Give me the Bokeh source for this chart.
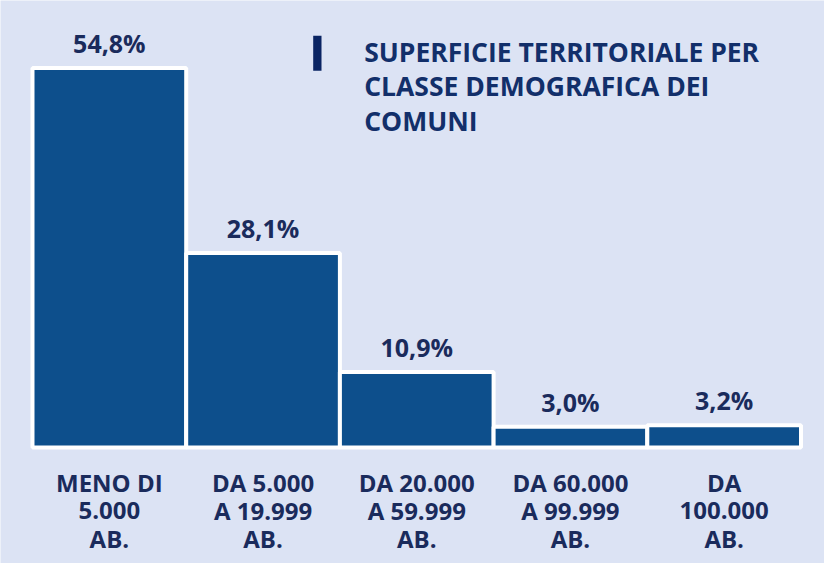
from bokeh.plotting import figure
from bokeh.models import ColumnDataSource, Range1d
from bokeh.core.properties import value
from bokeh.embed import file_html
from bokeh.resources import INLINE

# ---- data ----
categories = ["MENO DI\n5.000\nAB.", "DA 5.000\nA 19.999\nAB.", "DA 20.000\nA 59.999\nAB.",
              "DA 60.000\nA 99.999\nAB.", "DA\n100.000\nAB."]
shares = [54.8, 28.1, 10.9, 3.0, 3.2]
share_labels = ["54,8%", "28,1%", "10,9%", "3,0%", "3,2%"]
title_lines = ["SUPERFICIE TERRITORIALE PER", "CLASSE DEMOGRAFICA DEI", "COMUNI"]

W, H = 824, 563
PX_X = 153.7      # pixels per category
PX_Y = 6.925      # pixels per percentage point
X0 = 108.85       # frame px of x=0
Y0 = 447.0        # frame px (from top) of y=0

def dx(fx):
    return (fx - X0) / PX_X

def dy(fy):
    return (Y0 - fy) / PX_Y

FONT = value("Open Sans")
BG = "#dce3f4"
BAR = "#0d4f8c"
TXT = "#1a2b5c"
TITLE = "#122f6a"

p = figure(width=W, height=H, output_backend="svg", toolbar_location=None,
           min_border=0, x_axis_location=None, y_axis_location=None,
           background_fill_color=BG, border_fill_color=BG, outline_line_color=None)
p.x_range = Range1d(dx(0), dx(W))
p.y_range = Range1d(dy(H), dy(0))
p.xgrid.visible = False
p.ygrid.visible = False

xs = list(range(len(shares)))
src = ColumnDataSource(dict(x=xs, top=shares, lab=share_labels))
p.vbar(x="x", top="top", bottom=0, width=1, source=src,
       fill_color=BAR, line_color="white", line_width=4)

p.text(x="x", y="top", text="lab", source=src, y_offset=-25,
       text_align="center", text_baseline="alphabetic",
       text_font=FONT, text_font_style="bold", text_font_size="25px", text_color=TXT)

# category labels, line by line
split = [c.split("\n") for c in categories]
for li, off in enumerate([35, 63, 91]):
    lines = [s[li] if li < len(s) else "" for s in split]
    p.text(x=xs, y=[0] * len(xs), text=lines, y_offset=off,
           text_align="center", text_baseline="alphabetic",
           text_font=FONT, text_font_style="bold", text_font_size="24px", text_color=TXT)

# title block
tx, ty = dx(363.7), dy(51.3)
for li, t in enumerate(title_lines):
    p.text(x=[tx], y=[ty], text=[t], y_offset=li * 34.5,
           text_align="left", text_baseline="alphabetic",
           text_font=FONT, text_font_style="bold", text_font_size="26.5px", text_color=TITLE)

# marker bar beside title
p.quad(left=[dx(312.7)], right=[dx(321.0)], top=[dy(35.3)], bottom=[dy(70.3)],
       fill_color="#0a2463", line_color=None)

open("out.html", "w").write(file_html(p, INLINE))
